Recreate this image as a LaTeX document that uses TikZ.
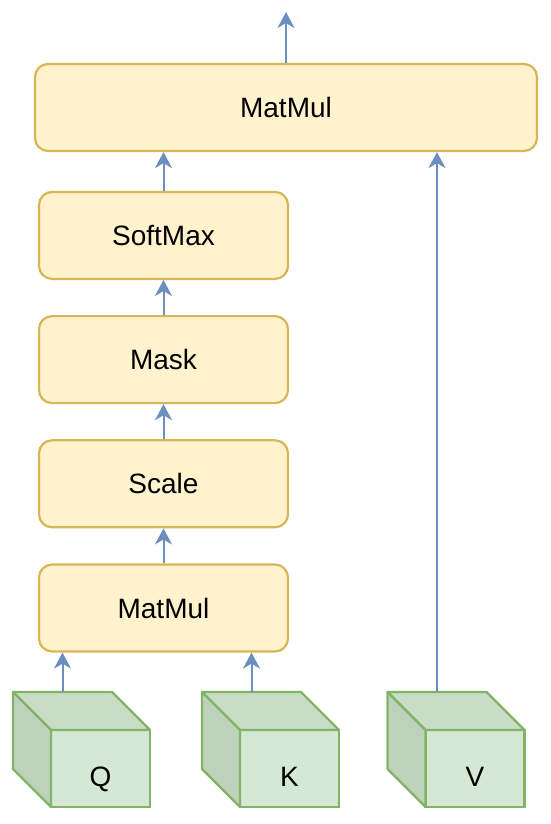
\documentclass[tikz,border=0pt]{standalone}
\usepackage{fontspec}
\setmainfont{Liberation Sans}
\usepackage{xcolor}
\usepackage{tikz}
\usetikzlibrary{arrows.meta, positioning, calc}

\definecolor{caixafundo}{HTML}{FFF2CC}
\definecolor{caixaborda}{HTML}{D6B656}
\definecolor{cubofrente}{HTML}{D5E8D4}
\definecolor{cubotopo}{HTML}{C8DCC6}
\definecolor{cubolado}{HTML}{BDD1BB}
\definecolor{cuboborda}{HTML}{82B366}
\definecolor{setaazul}{HTML}{6C8EBF}

\begin{document}
\begin{tikzpicture}[
        x=1pt, y=-1pt,
        node distance=35pt,
        caixa/.style={rectangle, draw=caixaborda, line width=2.2pt, fill=caixafundo, rounded corners=13pt, minimum width=249pt, minimum height=87pt, inner sep=0pt, font=\fontsize{28}{32}\selectfont},
        cubo/.style={rectangle, draw=cuboborda, line width=2.2pt, fill=cubofrente, minimum width=99pt, minimum height=77pt, inner sep=0pt, outer sep=0pt, text height=35pt, text depth=0pt, font=\fontsize{28}{32}\selectfont},
        face/.style={draw=cuboborda, line width=2.2pt, line join=round},
        seta/.style={draw=setaazul, line width=2pt, -{Stealth[length=16pt, width=17pt, inset=5pt]}}
    ]
        \useasboundingbox (0,0) rectangle (550,824);

        % Blocos da atenção
        \node[caixa] (matmulA) at (163.5,608) {MatMul};
        \node[caixa, above=of matmulA] (scale) {Scale};
        \node[caixa, above=of scale] (mask) {Mask};
        \node[caixa, above=of mask] (softmax) {SoftMax};
        \node[caixa, minimum width=502pt] (matmulB) at (286,107.5) {MatMul};
        \coordinate (saida) at (286,12);

        % Entradas Q, K, V
        \node[cubo] (q) at (100.5,768.5) {Q};
        \node[cubo] (k) at (289.5,768.5) {K};
        \node[cubo] (v) at (475,768.5) {V};
        \foreach \c in {q,k,v} {
            \draw[face, fill=cubotopo] (\c.north west) -- ++(-38,-38) -- ([shift={(-38,-38)}]\c.north east) -- (\c.north east) -- cycle;
            \draw[face, fill=cubolado] (\c.north west) -- ++(-38,-38) -- ([shift={(-38,-38)}]\c.south west) -- (\c.south west) -- cycle;
            \coordinate (\c-topo) at ([shift={(-38,-38)}]\c.north);
        }

        % Conexões
        \draw[seta] (q-topo) -- (q-topo |- matmulA.south);
        \draw[seta] (k-topo) -- (k-topo |- matmulA.south);
        \draw[seta] (v-topo) -- (v-topo |- matmulB.south);
        \draw[seta] (matmulA) -- (scale);
        \draw[seta] (scale) -- (mask);
        \draw[seta] (mask) -- (softmax);
        \draw[seta] (softmax.north) -- (softmax.north |- matmulB.south);
        \draw[seta] (matmulB) -- (saida);
    \end{tikzpicture}
\end{document}
